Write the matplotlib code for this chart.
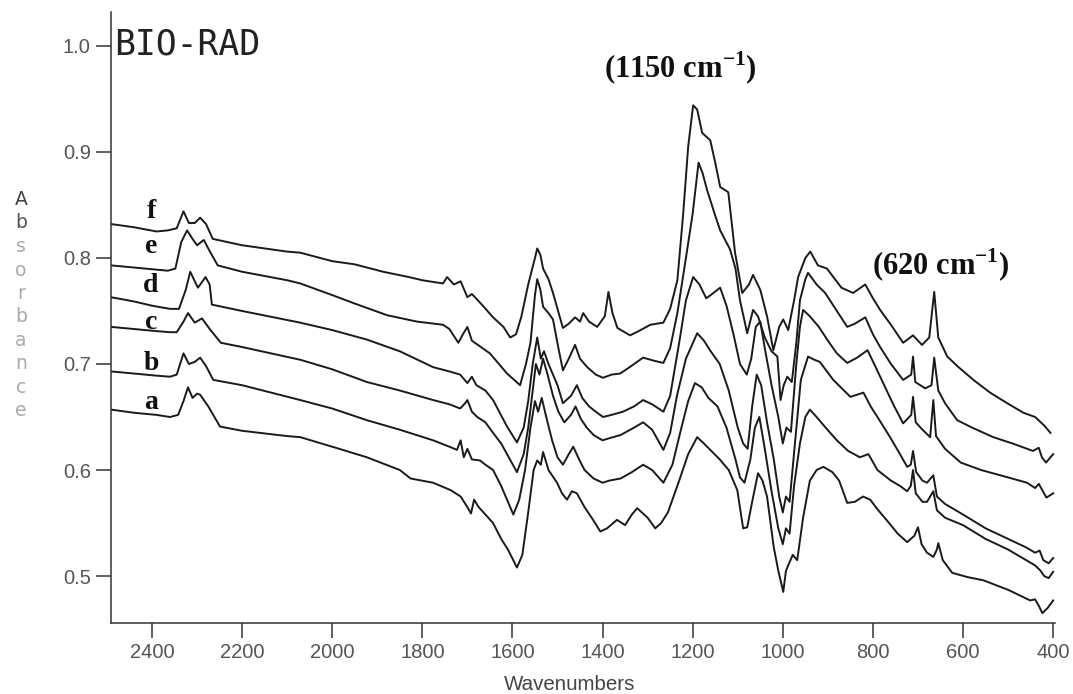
import numpy as np
import matplotlib
matplotlib.use('Agg')
import matplotlib.pyplot as plt

plt.rcParams['mathtext.fontset'] = 'custom'
plt.rcParams['mathtext.rm'] = 'Liberation Serif'
plt.rcParams['mathtext.bf'] = 'Liberation Serif:bold'

# FTIR spectra, (wavenumber cm-1, absorbance)
trace_f = [(2491, 0.832), (2440, 0.829), (2390, 0.825), (2365, 0.826), (2345, 0.828),
           (2330, 0.844), (2318, 0.833), (2305, 0.833), (2293, 0.838), (2280, 0.832),
           (2265, 0.818), (2200, 0.812), (2100, 0.806), (2071, 0.805), (2000, 0.797),
           (1950, 0.794), (1887, 0.787), (1830, 0.782), (1800, 0.779), (1770, 0.777),
           (1754, 0.776), (1745, 0.782), (1730, 0.775), (1715, 0.778), (1700, 0.763),
           (1690, 0.766), (1670, 0.757), (1643, 0.744), (1620, 0.735), (1605, 0.725),
           (1592, 0.728), (1580, 0.745), (1565, 0.775), (1550, 0.800), (1545, 0.809),
           (1538, 0.803), (1532, 0.790), (1520, 0.780), (1510, 0.767), (1488, 0.734),
           (1475, 0.738), (1461, 0.744), (1450, 0.740), (1443, 0.748), (1430, 0.740),
           (1412, 0.735), (1395, 0.745), (1387, 0.768), (1378, 0.748), (1367, 0.734),
           (1339, 0.727), (1320, 0.731), (1294, 0.737), (1265, 0.739), (1250, 0.752),
           (1234, 0.779), (1221, 0.842), (1210, 0.905), (1199, 0.944), (1190, 0.940),
           (1179, 0.918), (1161, 0.911), (1150, 0.890), (1139, 0.867), (1121, 0.862),
           (1106, 0.805), (1090, 0.767), (1075, 0.775), (1066, 0.784), (1050, 0.770),
           (1035, 0.745), (1021, 0.713), (1008, 0.735), (999, 0.742), (988, 0.732),
           (975, 0.760), (966, 0.782), (950, 0.800), (939, 0.806), (922, 0.793),
           (902, 0.790), (870, 0.772), (844, 0.767), (817, 0.775), (800, 0.762),
           (784, 0.751), (760, 0.737), (733, 0.720), (711, 0.727), (700, 0.722),
           (691, 0.718), (675, 0.725), (664, 0.768), (655, 0.725), (635, 0.707),
           (610, 0.697), (577, 0.685), (540, 0.673), (502, 0.663), (466, 0.654),
           (440, 0.650), (420, 0.642), (406, 0.635)]

trace_e = [(2491, 0.793), (2440, 0.791), (2390, 0.789), (2365, 0.788), (2348, 0.790),
           (2335, 0.815), (2322, 0.826), (2310, 0.818), (2300, 0.812), (2285, 0.817),
           (2270, 0.805), (2254, 0.793), (2200, 0.787), (2100, 0.779), (2071, 0.776),
           (2000, 0.765), (1950, 0.757), (1878, 0.746), (1812, 0.740), (1754, 0.737),
           (1740, 0.733), (1720, 0.720), (1710, 0.728), (1700, 0.735), (1690, 0.722),
           (1670, 0.716), (1650, 0.710), (1630, 0.700), (1612, 0.691), (1583, 0.680),
           (1570, 0.700), (1560, 0.720), (1550, 0.765), (1545, 0.780), (1538, 0.770),
           (1532, 0.754), (1520, 0.748), (1510, 0.742), (1498, 0.715), (1488, 0.694),
           (1475, 0.705), (1461, 0.718), (1450, 0.705), (1434, 0.697), (1415, 0.690),
           (1399, 0.687), (1380, 0.690), (1361, 0.691), (1340, 0.697), (1310, 0.706),
           (1285, 0.703), (1265, 0.701), (1250, 0.715), (1234, 0.748), (1215, 0.800),
           (1200, 0.842), (1187, 0.890), (1178, 0.880), (1168, 0.864), (1150, 0.840),
           (1139, 0.826), (1117, 0.808), (1105, 0.790), (1095, 0.760), (1079, 0.729),
           (1066, 0.751), (1055, 0.745), (1040, 0.725), (1025, 0.712), (1012, 0.707),
           (1005, 0.666), (998, 0.680), (990, 0.688), (980, 0.683), (970, 0.720),
           (962, 0.760), (950, 0.780), (944, 0.786), (925, 0.775), (906, 0.767),
           (880, 0.750), (857, 0.735), (840, 0.738), (817, 0.744), (800, 0.728),
           (784, 0.716), (760, 0.700), (733, 0.685), (715, 0.690), (711, 0.707),
           (706, 0.683), (684, 0.677), (670, 0.680), (664, 0.706), (655, 0.675),
           (640, 0.663), (613, 0.647), (580, 0.640), (533, 0.631), (490, 0.625),
           (445, 0.618), (432, 0.621), (425, 0.612), (416, 0.607), (400, 0.615)]

trace_d = [(2491, 0.763), (2440, 0.759), (2400, 0.755), (2360, 0.752), (2340, 0.752),
           (2325, 0.770), (2315, 0.787), (2305, 0.778), (2298, 0.772), (2281, 0.782),
           (2272, 0.775), (2267, 0.756), (2200, 0.750), (2071, 0.739), (2000, 0.732),
           (1923, 0.723), (1850, 0.712), (1776, 0.697), (1740, 0.693), (1716, 0.690),
           (1708, 0.686), (1700, 0.682), (1690, 0.688), (1680, 0.680), (1660, 0.675),
           (1643, 0.666), (1612, 0.641), (1590, 0.626), (1575, 0.640), (1565, 0.665),
           (1555, 0.700), (1545, 0.725), (1537, 0.705), (1530, 0.712), (1520, 0.700),
           (1500, 0.680), (1488, 0.663), (1470, 0.670), (1457, 0.680), (1445, 0.668),
           (1430, 0.660), (1415, 0.655), (1399, 0.650), (1380, 0.652), (1355, 0.655),
           (1330, 0.660), (1310, 0.666), (1290, 0.662), (1265, 0.655), (1250, 0.670),
           (1230, 0.720), (1215, 0.760), (1199, 0.782), (1185, 0.775), (1170, 0.762),
           (1160, 0.765), (1139, 0.772), (1125, 0.755), (1110, 0.729), (1095, 0.700),
           (1080, 0.690), (1070, 0.705), (1060, 0.735), (1050, 0.740), (1040, 0.715),
           (1025, 0.680), (1010, 0.650), (1000, 0.625), (992, 0.640), (982, 0.636),
           (970, 0.700), (962, 0.735), (955, 0.751), (940, 0.745), (920, 0.735),
           (900, 0.722), (880, 0.710), (857, 0.701), (835, 0.706), (812, 0.713),
           (795, 0.698), (775, 0.680), (755, 0.662), (733, 0.644), (715, 0.652),
           (711, 0.669), (705, 0.645), (690, 0.638), (673, 0.631), (666, 0.666),
           (660, 0.632), (640, 0.620), (605, 0.607), (560, 0.600), (500, 0.593),
           (458, 0.588), (440, 0.583), (432, 0.587), (415, 0.574), (400, 0.578)]

trace_c = [(2491, 0.735), (2440, 0.733), (2390, 0.731), (2360, 0.730), (2345, 0.730),
           (2330, 0.740), (2320, 0.748), (2305, 0.739), (2289, 0.743), (2270, 0.732),
           (2247, 0.720), (2200, 0.716), (2071, 0.704), (2000, 0.695), (1923, 0.683),
           (1850, 0.675), (1776, 0.666), (1740, 0.662), (1716, 0.658), (1705, 0.663),
           (1700, 0.666), (1690, 0.655), (1678, 0.650), (1660, 0.645), (1643, 0.635),
           (1625, 0.625), (1612, 0.615), (1590, 0.598), (1575, 0.615), (1565, 0.640),
           (1555, 0.675), (1548, 0.700), (1540, 0.690), (1532, 0.705), (1522, 0.690),
           (1510, 0.670), (1498, 0.655), (1485, 0.645), (1470, 0.652), (1460, 0.660),
           (1448, 0.648), (1435, 0.640), (1420, 0.633), (1400, 0.628), (1385, 0.630),
           (1360, 0.633), (1330, 0.640), (1310, 0.645), (1290, 0.638), (1265, 0.619),
           (1250, 0.635), (1235, 0.670), (1215, 0.705), (1190, 0.729), (1175, 0.722),
           (1160, 0.712), (1140, 0.700), (1120, 0.675), (1100, 0.640), (1088, 0.625),
           (1078, 0.620), (1068, 0.660), (1058, 0.690), (1048, 0.680), (1035, 0.645),
           (1020, 0.610), (1008, 0.575), (1000, 0.560), (993, 0.575), (985, 0.570),
           (972, 0.630), (960, 0.685), (944, 0.707), (930, 0.704), (918, 0.702),
           (888, 0.685), (850, 0.669), (821, 0.673), (805, 0.660), (790, 0.650),
           (762, 0.631), (740, 0.615), (724, 0.603), (716, 0.605), (711, 0.618),
           (704, 0.598), (690, 0.590), (680, 0.588), (666, 0.595), (658, 0.575),
           (640, 0.568), (600, 0.558), (550, 0.545), (500, 0.535), (460, 0.527),
           (440, 0.522), (430, 0.524), (422, 0.515), (410, 0.512), (400, 0.517)]

trace_b = [(2491, 0.693), (2440, 0.691), (2390, 0.689), (2360, 0.688), (2345, 0.690),
           (2330, 0.710), (2318, 0.700), (2305, 0.702), (2293, 0.706), (2280, 0.698),
           (2264, 0.685), (2200, 0.680), (2071, 0.666), (2000, 0.658), (1923, 0.647),
           (1850, 0.638), (1776, 0.628), (1740, 0.622), (1723, 0.619), (1715, 0.628),
           (1708, 0.612), (1700, 0.620), (1690, 0.610), (1672, 0.609), (1660, 0.605),
           (1643, 0.600), (1625, 0.585), (1610, 0.570), (1598, 0.558), (1585, 0.572),
           (1572, 0.600), (1560, 0.640), (1550, 0.665), (1543, 0.655), (1535, 0.668),
           (1525, 0.650), (1512, 0.628), (1500, 0.612), (1488, 0.605), (1475, 0.615),
           (1465, 0.622), (1452, 0.610), (1440, 0.600), (1420, 0.592), (1400, 0.588),
           (1385, 0.590), (1360, 0.592), (1335, 0.598), (1310, 0.605), (1290, 0.600),
           (1265, 0.588), (1245, 0.605), (1225, 0.640), (1210, 0.665), (1195, 0.682),
           (1180, 0.678), (1165, 0.668), (1145, 0.660), (1125, 0.640), (1105, 0.610),
           (1095, 0.593), (1085, 0.588), (1072, 0.610), (1062, 0.640), (1052, 0.650),
           (1040, 0.620), (1025, 0.580), (1010, 0.545), (1000, 0.530), (993, 0.545),
           (985, 0.540), (975, 0.585), (962, 0.625), (950, 0.650), (940, 0.657),
           (925, 0.650), (905, 0.640), (880, 0.628), (855, 0.618), (829, 0.612),
           (810, 0.615), (790, 0.600), (760, 0.590), (740, 0.585), (724, 0.580),
           (716, 0.585), (711, 0.600), (705, 0.578), (690, 0.570), (680, 0.570),
           (666, 0.580), (658, 0.562), (640, 0.555), (600, 0.548), (550, 0.535),
           (500, 0.525), (460, 0.515), (440, 0.510), (428, 0.505), (420, 0.500),
           (410, 0.498), (400, 0.504)]

trace_a = [(2491, 0.657), (2440, 0.654), (2390, 0.652), (2360, 0.650), (2342, 0.652),
           (2330, 0.665), (2320, 0.678), (2310, 0.668), (2300, 0.672), (2293, 0.671),
           (2275, 0.660), (2249, 0.641), (2200, 0.637), (2100, 0.632), (2071, 0.631),
           (2000, 0.622), (1923, 0.612), (1850, 0.600), (1826, 0.592), (1776, 0.588),
           (1737, 0.581), (1715, 0.575), (1700, 0.565), (1692, 0.559), (1685, 0.572),
           (1675, 0.565), (1660, 0.558), (1643, 0.550), (1625, 0.535), (1610, 0.525),
           (1590, 0.508), (1578, 0.520), (1565, 0.560), (1553, 0.600), (1545, 0.609),
           (1537, 0.605), (1532, 0.617), (1520, 0.600), (1501, 0.588), (1490, 0.578),
           (1479, 0.572), (1468, 0.580), (1457, 0.578), (1440, 0.565), (1421, 0.553),
           (1405, 0.542), (1390, 0.545), (1368, 0.553), (1350, 0.548), (1335, 0.558),
           (1323, 0.564), (1300, 0.555), (1283, 0.545), (1270, 0.550), (1255, 0.560),
           (1230, 0.590), (1210, 0.615), (1190, 0.631), (1175, 0.625), (1161, 0.619),
           (1140, 0.610), (1120, 0.600), (1101, 0.581), (1088, 0.545), (1079, 0.546),
           (1068, 0.570), (1055, 0.597), (1045, 0.590), (1035, 0.575), (1020, 0.527),
           (1010, 0.505), (999, 0.485), (993, 0.505), (988, 0.510), (978, 0.520),
           (968, 0.515), (955, 0.555), (940, 0.590), (925, 0.600), (910, 0.603),
           (890, 0.598), (875, 0.590), (857, 0.569), (840, 0.570), (822, 0.575),
           (806, 0.572), (790, 0.563), (770, 0.553), (745, 0.540), (724, 0.532),
           (708, 0.538), (700, 0.546), (692, 0.530), (680, 0.522), (666, 0.518),
           (658, 0.525), (655, 0.531), (645, 0.515), (624, 0.503), (590, 0.499),
           (555, 0.496), (500, 0.487), (451, 0.477), (440, 0.478), (432, 0.472),
           (424, 0.465), (412, 0.470), (400, 0.477)]

traces = [trace_a, trace_b, trace_c, trace_d, trace_e, trace_f]
trace_names = ['a', 'b', 'c', 'd', 'e', 'f']
name_y = [0.658, 0.694, 0.733, 0.768, 0.805, 0.838]

x_ticks = [2400, 2200, 2000, 1800, 1600, 1400, 1200, 1000, 800, 600, 400]
y_ticks = [0.5, 0.6, 0.7, 0.8, 0.9, 1.0]

fig = plt.figure(figsize=(10.73, 6.94), dpi=100)
ax = fig.add_axes([0.1034, 0.1023, 0.8798, 0.8804])

for tr in traces:
    wn, ab = np.array(tr).T
    ax.plot(wn, ab, color='#1a1a1a', lw=1.4)

ax.set_xlim(2491, 396)
ax.set_ylim(0.4557, 1.032)
ax.set_xticks(x_ticks)
ax.set_xticklabels([str(t) for t in x_ticks])
ax.set_yticks(y_ticks)
ax.set_yticklabels(['%.1f' % t for t in y_ticks])

for s in ['top', 'right']:
    ax.spines[s].set_visible(False)
for s in ['left', 'bottom']:
    ax.spines[s].set_linewidth(1.1)
    ax.spines[s].set_color('#333333')

ax.tick_params(direction='out', length=10.5, width=1.1, color='#333333',
               labelsize=14.5, labelcolor='#555555', pad=4)
for lab in ax.get_xticklabels() + ax.get_yticklabels():
    lab.set_family('Liberation Sans')

# trace labels
for name, y in zip(trace_names, name_y):
    ax.text(2402, y, name, ha='center', va='baseline', fontsize=20,
            fontweight='bold', family='Liberation Serif', color='#111111')

ax.text(2483, 0.9915, 'BIO-RAD', ha='left', va='baseline', fontsize=25,
        family='DejaVu Sans Mono', color='#222222')

ax.text(1228, 0.970, '(1150 cm$^{\\mathbf{-1}}$)', ha='center', va='baseline',
        fontsize=22, fontweight='bold', family='Liberation Serif', color='#111111')
ax.text(649, 0.784, '(620 cm$^{\\mathbf{-1}}$)', ha='center', va='baseline',
        fontsize=22, fontweight='bold', family='Liberation Serif', color='#111111')

# vertical stacked y label
letters = list('Absorbance')
colors = ['#444444', '#555555'] + ['#aaaaaa'] * 8
for i, (ch, col) in enumerate(zip(letters, colors)):
    fig.text(21 / 1073, 1 - (205 + 23.5 * i) / 694, ch, ha='center', va='baseline',
             fontsize=13.5, color=col)

fig.text(570 / 1073, 1 - 690 / 694, 'Wavenumbers', ha='center', va='baseline',
         fontsize=14.8, color='#444444', family='Liberation Sans')

fig.savefig('out.png', dpi=100)
